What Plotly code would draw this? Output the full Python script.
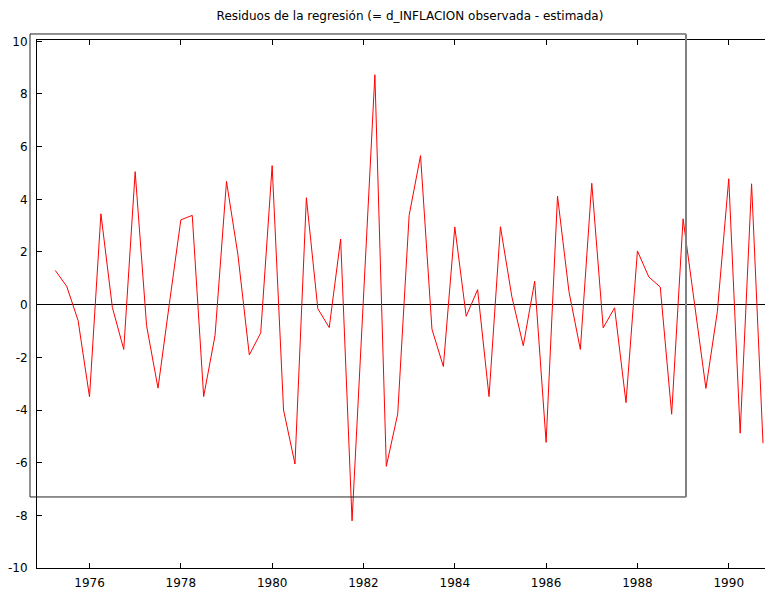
import plotly.graph_objects as go

# Quarterly dates 1975:2 .. 1990:4
years = [1975 + q / 4 for q in range(1, 64)]
residuals = [
    1.30, 0.70, -0.60, -3.50, 3.45, -0.10, -1.70, 5.05, -0.80, -3.17,
    0.05, 3.22, 3.39, -3.49, -1.16, 4.68, 1.90, -1.91, -1.07, 5.28,
    -4.00, -6.05, 4.06, -0.15, -0.87, 2.49, -8.21, 0.25, 8.73, -6.14,
    -4.15, 3.39, 5.66, -0.93, -2.35, 2.95, -0.44, 0.57, -3.49, 2.96,
    0.30, -1.56, 0.89, -5.23, 4.12, 0.50, -1.70, 4.61, -0.88, -0.12,
    -3.72, 2.04, 1.05, 0.67, -4.16, 3.26, 0.04, -3.18, -0.27, 4.78,
    -4.88, 4.59, -5.26,
]
x_ticks = [1976, 1978, 1980, 1982, 1984, 1986, 1988, 1990]
y_ticks = [-10, -8, -6, -4, -2, 0, 2, 4, 6, 8, 10]
title_text = "Residuos de la regresión (= d_INFLACION observada - estimada)"

FONT = "DejaVu Sans"

fig = go.Figure()
fig.add_trace(go.Scatter(
    x=years, y=residuals, mode="lines",
    line=dict(color="#ff0000", width=1),
    showlegend=False, hoverinfo="skip",
))

# The page body has an 8px margin and the visible area ends ~8px before the window edge
fig.update_layout(
    width=757, height=587,
    margin=dict(l=29, r=0, t=32, b=27),
    paper_bgcolor="white", plot_bgcolor="white",
    font=dict(family=FONT, size=12, color="black"),
    title=dict(text=title_text, x=0.531, xanchor="center", y=0.986, yanchor="middle",
               font=dict(family=FONT, size=12, color="black")),
    xaxis=dict(
        range=[1974.850, 1990.794], tickvals=x_ticks, ticktext=[str(v) for v in x_ticks],
        ticks="inside", ticklen=5, tickcolor="black", showgrid=False,
        showline=True, linecolor="black", linewidth=1, mirror="ticks",
        zeroline=False, ticklabelstandoff=4,
    ),
    yaxis=dict(
        range=[-10, 10.05], tickvals=y_ticks, ticktext=[str(v) for v in y_ticks],
        ticks="inside", ticklen=5, tickcolor="black", showgrid=False,
        showline=True, linecolor="black", linewidth=1, mirror=False,
        zeroline=True, zerolinecolor="black", zerolinewidth=1,
        ticklabelstandoff=6,
    ),
)

# Stray frame from the original graphic
fig.add_shape(type="rect", xref="paper", yref="paper",
              x0=-0.0096, x1=0.8915, y0=0.1345, y1=1.0114,
              line=dict(color="#222222", width=1), fillcolor="rgba(0,0,0,0)", layer="above")
fig.add_shape(type="line", xref="paper", yref="paper",
              x0=0.8915, x1=0.8915, y0=0.1345, y1=1.0114,
              line=dict(color="#808080", width=2), layer="above")

fig.write_html("out.html")
